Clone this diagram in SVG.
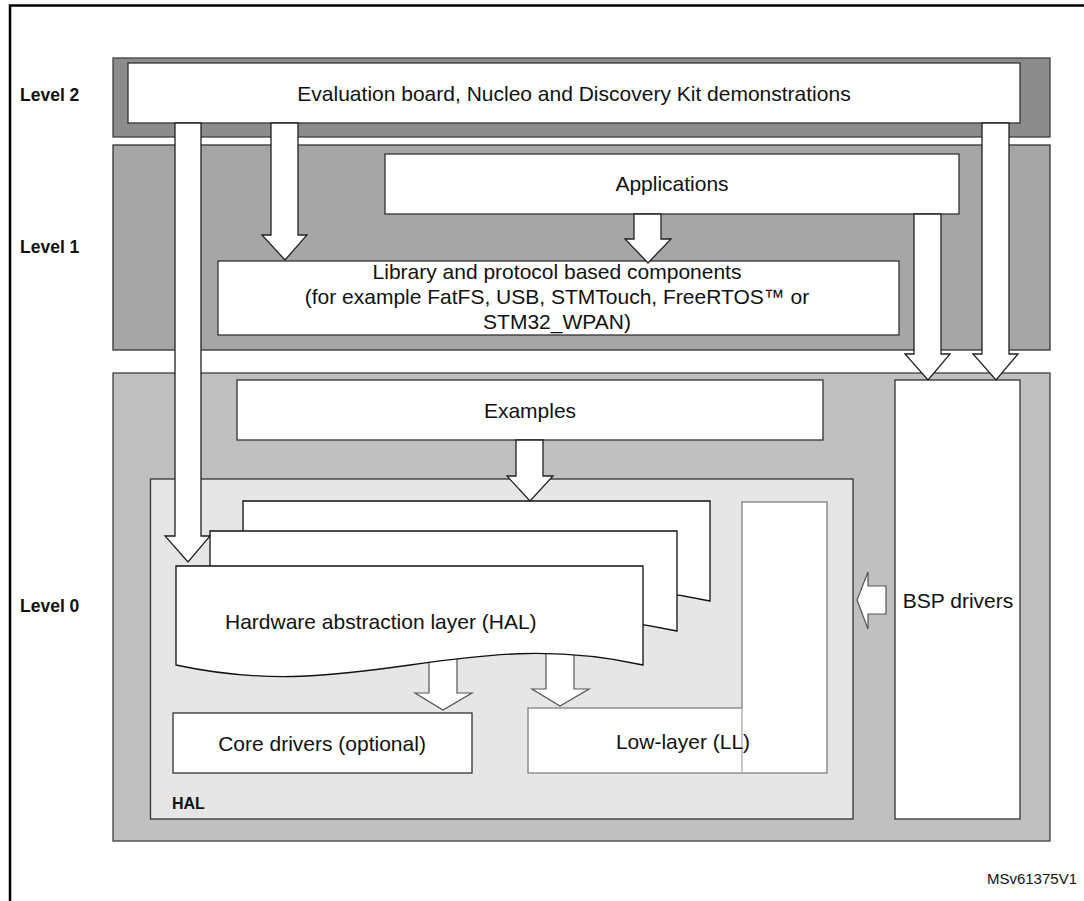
<svg xmlns="http://www.w3.org/2000/svg" width="1084" height="901" viewBox="0 0 1084 901">
<style>
.t{font-family:"Liberation Sans",Arial,sans-serif;font-size:21px;fill:#111}
.lv{font-family:"Liberation Sans",Arial,sans-serif;font-size:17.5px;font-weight:bold;fill:#111}
.hl{font-family:"Liberation Sans",Arial,sans-serif;font-size:16px;font-weight:bold;fill:#111}
.box{fill:#fff;stroke:#333;stroke-width:1.3}
.arr{fill:#fff;stroke:#222;stroke-width:1.3;stroke-linejoin:miter}
.arr2{fill:#fff;stroke:#555;stroke-width:1.2}
.page{fill:#fff;stroke:#111;stroke-width:1.3}
.ll{fill:#fff;stroke:#808080;stroke-width:1.3}
</style>
<rect width="1084" height="901" fill="#fff"/>
<g id="frame" fill="none" stroke="#000" stroke-width="2.5">
<path d="M1084,5.5 H10 V901"/>
</g>
<g id="level2">
<rect x="113" y="58" width="937" height="79" fill="#8c8c8c" stroke="#404040" stroke-width="1.3"/>
<text class="lv" x="20" y="101">Level 2</text>
</g>
<g id="level1">
<rect x="113" y="145" width="937" height="205" fill="#a6a6a6" stroke="#333" stroke-width="1.3"/>
<text class="lv" x="20" y="253">Level 1</text>
</g>
<g id="level0">
<rect x="113" y="373" width="937" height="468" fill="#c0c0c0" stroke="#404040" stroke-width="1.3"/>
<text class="lv" x="20" y="612">Level 0</text>
</g>
<g id="demos">
<rect class="box" x="128" y="63" width="892" height="60"/>
<text class="t" x="574" y="101" text-anchor="middle">Evaluation board, Nucleo and Discovery Kit demonstrations</text>
</g>
<g id="applications">
<rect class="box" x="385" y="154" width="574" height="60"/>
<text class="t" x="672" y="191" text-anchor="middle">Applications</text>
</g>
<g id="library">
<rect class="box" x="218" y="261" width="681" height="74"/>
<text class="t" x="557" y="279" text-anchor="middle">Library and protocol based components</text>
<text class="t" x="557" y="304" text-anchor="middle">(for example FatFS, USB, STMTouch, FreeRTOS™ or</text>
<text class="t" x="557" y="329" text-anchor="middle">STM32_WPAN)</text>
</g>
<g id="examples">
<rect class="box" x="237" y="380" width="586" height="60"/>
<text class="t" x="530" y="418" text-anchor="middle">Examples</text>
</g>
<g id="bsp">
<rect class="box" x="895" y="380" width="125" height="439"/>
<text class="t" x="958" y="608" text-anchor="middle">BSP drivers</text>
</g>
<g id="hal">
<rect x="150.5" y="479" width="702.5" height="340" fill="#e6e6e6" stroke="#333" stroke-width="1.3"/>
<text class="hl" x="172" y="809">HAL</text>
</g>
<g id="connectors-inner">
<polygon class="arr2" points="429,650 457,650 457,693 472,693 443,710 415,693 429,693"/>
<polygon class="arr2" points="546,645 574,645 574,689 589,689 560,706 532,689 546,689"/>
</g>
<g id="hal-layer">
<path class="page" d="M243,501 H710 V601 C527,561 427,641 243,601 Z"/>
<path class="page" d="M210,531 H677 V631 C494,591 394,671 210,631 Z"/>
<path class="page" d="M176,566 H643 V665 C460,625 360,705 176,665 Z"/>
<text class="t" x="225" y="629">Hardware abstraction layer (HAL)</text>
</g>
<g id="low-layer">
<rect class="ll" x="528" y="708" width="214" height="65"/>
<rect class="ll" x="742" y="502" width="85" height="271"/>
<rect x="743" y="709" width="3" height="63" fill="#fff"/>
<line x1="742" y1="708.6" x2="742" y2="773" stroke="#ddd" stroke-width="1.3"/>
<text class="t" x="683" y="749" text-anchor="middle">Low-layer (LL)</text>
</g>
<g id="core-drivers">
<rect class="box" x="173" y="713" width="299" height="60"/>
<text class="t" x="322" y="751" text-anchor="middle">Core drivers (optional)</text>
</g>
<g id="connectors">
<polygon class="arr" points="175,123 201,123 201,536 210,536 188,562 165,536 175,536"/>
<polygon class="arr" points="271,123 298,123 298,235 307,235 285,260 262,235 271,235"/>
<polygon class="arr" points="634,214 661,214 661,239 671,239 648,263 625,239 634,239"/>
<polygon class="arr" points="914,214 941,214 941,354 950,354 928,380 905,354 914,354"/>
<polygon class="arr" points="982,123 1009,123 1009,354 1018,354 996,380 973,354 982,354"/>
<polygon class="arr" points="516,440 543,440 543,476 553,476 530,501 507,476 516,476"/>
<polygon class="arr2" points="886,586 886,614 868,614 868,629 857,600 868,572 868,586"/>
</g>
<text x="1077" y="884" text-anchor="end" style="font-family:'Liberation Sans',Arial,sans-serif;font-size:15px;fill:#111">MSv61375V1</text>
</svg>
